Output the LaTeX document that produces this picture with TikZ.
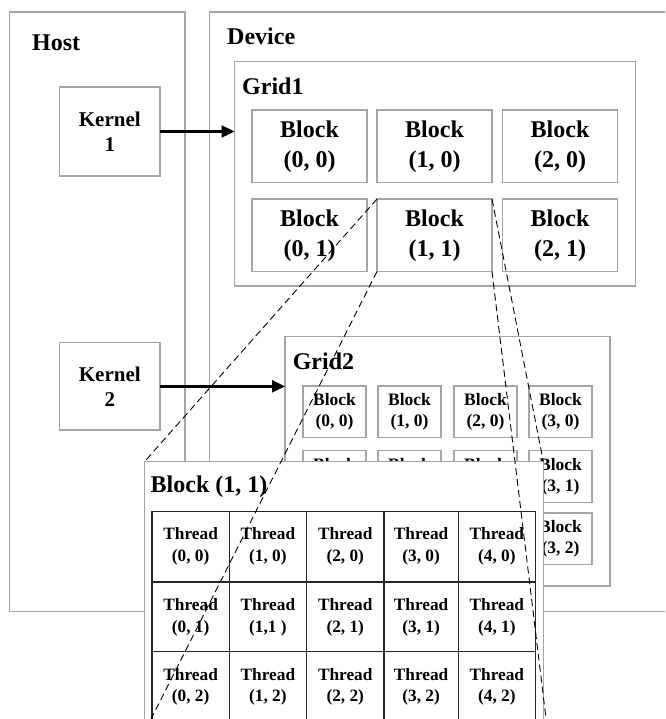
\documentclass[tikz,border=0pt]{standalone}
\usepackage{fontspec}
\setmainfont{Liberation Serif}
\usetikzlibrary{arrows.meta}
\definecolor{edgegray}{RGB}{165,165,165}
\tikzset{
  box/.style={draw=edgegray, line width=1.3pt, fill=white, inner sep=0pt, outer sep=0pt, anchor=north west},
  head/.style={font=\fontsize{24}{28}\selectfont\bfseries, inner sep=0pt, anchor=base west},
  kernelbox/.style={box, align=center, font=\fontsize{21}{25}\selectfont\bfseries},
  bigblock/.style={box, align=center, font=\fontsize{24}{30}\selectfont\bfseries},
  smallblock/.style={box, align=center, font=\fontsize{17.5}{21}\selectfont\bfseries},
  thr/.style={draw=black!85, line width=1.1pt, fill=white, inner sep=0pt, outer sep=0pt,
    anchor=north west, align=center, font=\fontsize{17.3}{21.7}\selectfont\bfseries},
  launch/.style={line width=2.4pt, -{Triangle[length=13pt,width=12pt]}},
  zoomline/.style={draw=black, line width=0.9pt, dash pattern=on 7pt off 4pt}
}
\begin{document}
\begin{tikzpicture}[x=1pt,y=-1pt]
\useasboundingbox (0,0) rectangle (665,719);
\clip (0,0) rectangle (665,719);
\fill[white] (0,0) rectangle (665,719);

% host and device
\node[box, minimum width=175.5pt, minimum height=599.7pt] (host) at (9.5,12) {};
\node[box, minimum width=520pt, minimum height=599.7pt] (device) at (209.5,12) {};
\node[head] (hostlbl) at (32,51) {Host};
\node[head] (devlbl) at (227,44.5) {Device};

% kernels
\node[kernelbox, minimum width=100.5pt, minimum height=89pt] (kernel1) at (59.5,87) {Kernel\\1};
\node[kernelbox, minimum width=100.5pt, minimum height=87.3pt] (kernel2) at (59.5,342.7) {Kernel\\2};

% grid 1
\node[box, minimum width=401pt, minimum height=224.5pt] (grid1) at (234.5,61.5) {};
\node[head] (grid1lbl) at (242,94.5) {Grid1};
\foreach \i/\bx in {0/252,1/377,2/502.5}{
  \foreach \j/\by in {0/110,1/199}{
    \node[bigblock, minimum width=115pt, minimum height=72.5pt] (g1b-\i-\j) at (\bx,\by) {Block\\(\i, \j)};
  }
}

% grid 2 (the lower rows of the first three columns sit behind the enlarged block)
\node[box, minimum width=325pt, minimum height=249.3pt] (grid2) at (285,336.7) {};
\node[head] (grid2lbl) at (292.6,369) {Grid2};
\foreach \i/\bx in {0/303,1/378,2/454,3/529}{
  \foreach \j/\by in {0/386,1/450.7}{
    \node[smallblock, minimum width=63pt, minimum height=51.5pt] (g2b-\i-\j) at (\bx,\by) {Block\\(\i, \j)};
  }
}
\node[smallblock, minimum width=63pt, minimum height=51.5pt] (g2b-3-2) at (529,513) {Block\\(3, 2)};

% kernel launches
\draw[launch] (kernel1.east) -- (kernel1.east -| grid1.west);
\draw[launch] (kernel2.east) -- (kernel2.east -| grid2.west);

% enlarged block with its threads
\node[box, minimum width=398.8pt, minimum height=270.3pt] (big) at (144.5,461.7) {};
\node[head] (biglbl) at (150.5,492.5) {Block (1, 1)};
\foreach \r/\ty in {0/511.5,1/582,2/651.7}{
  \foreach \c/\tx/\tw in {0/152/77.3,1/229.3/77.2,2/306.5/77.5,3/384/74.2,4/458.2/77.3}{
    \node[thr, minimum width=\tw pt, minimum height=70.3pt] (t-\c-\r) at (\tx,\ty)
      {Thread\\{\ifnum\c\r=11 (1,1 )\else(\c, \r)\fi}};
  }
}

% zoom lines from block (1, 1) of grid 1
\coordinate (lowright) at (548,735);
\draw[zoomline] (g1b-1-1.north west) -- (big.north west);
\draw[zoomline] (g1b-1-1.south west) -- (big.south west);
\draw[zoomline] (g1b-1-1.north east) -- (big.north east);
\draw[zoomline] (g1b-1-1.south east) -- (lowright);
\end{tikzpicture}
\end{document}
